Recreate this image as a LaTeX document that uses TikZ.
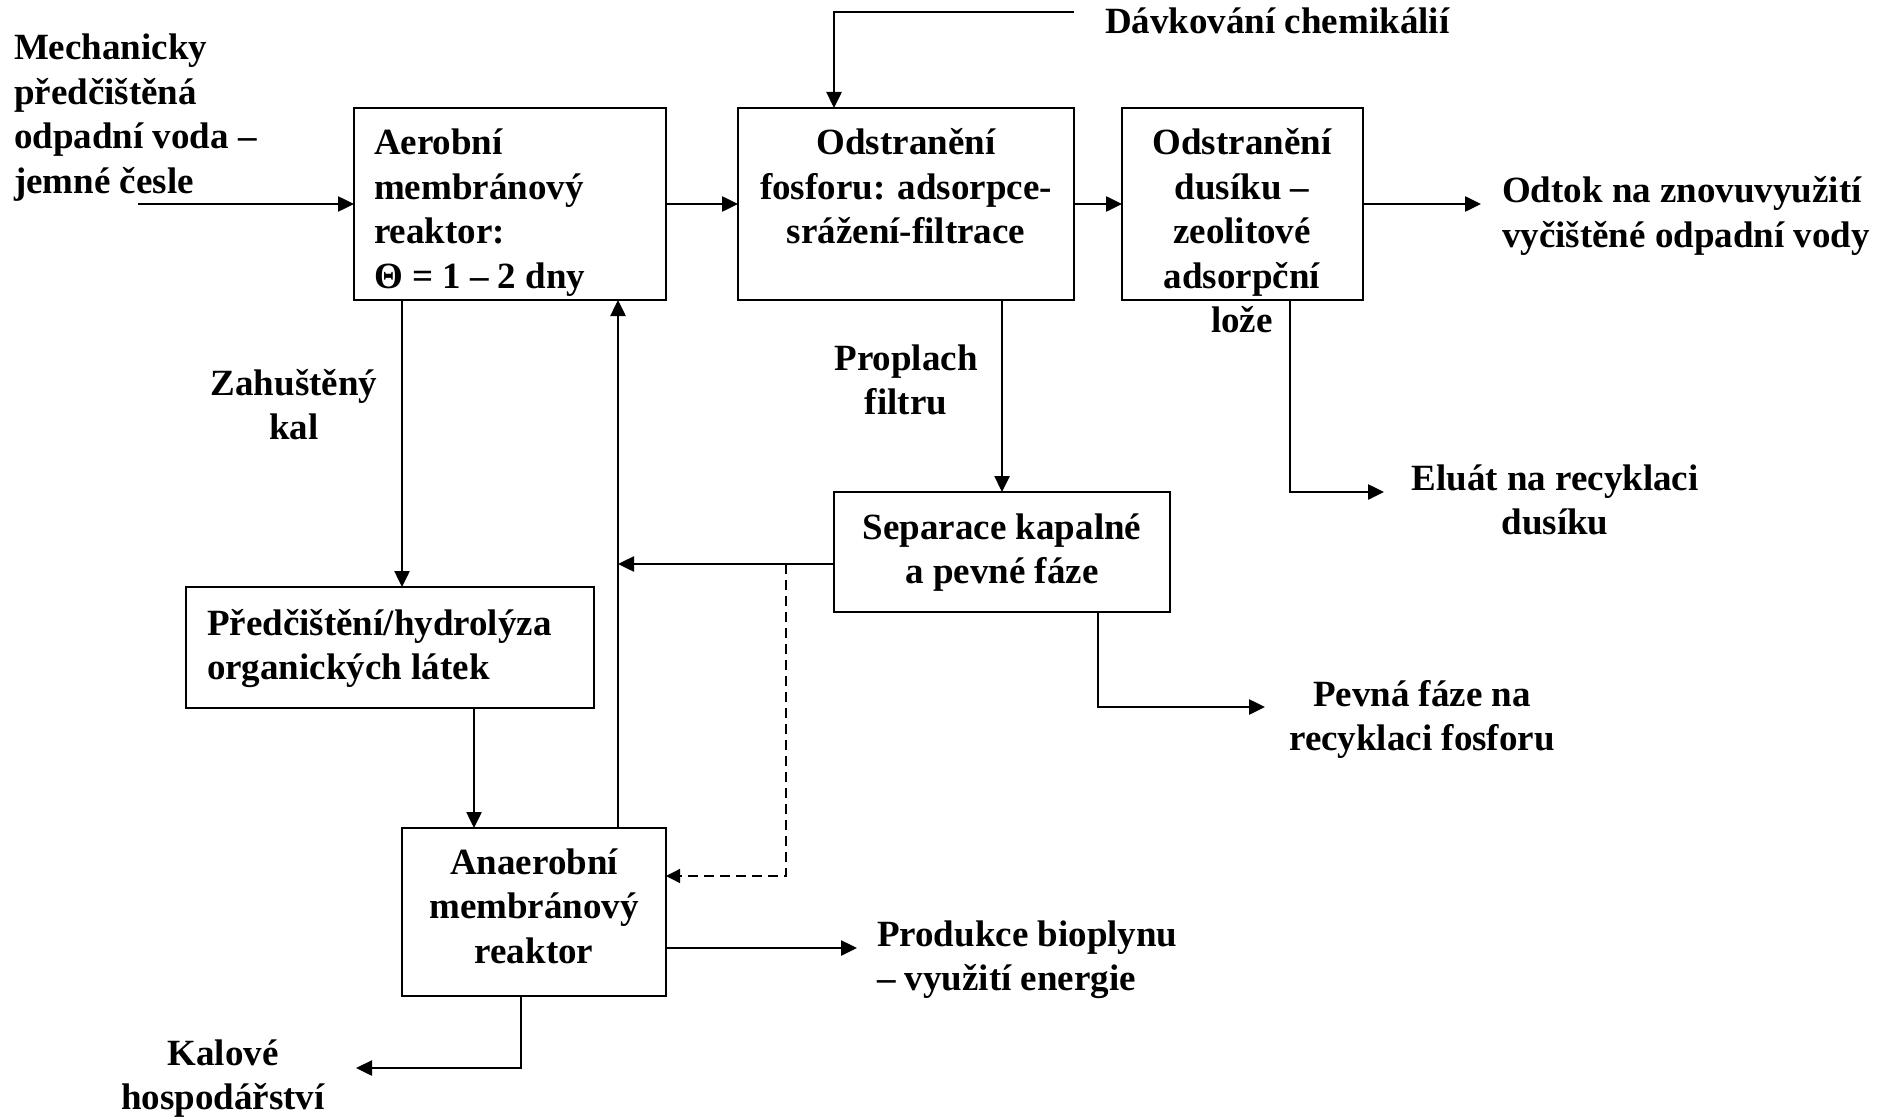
\documentclass[tikz,border=0pt]{standalone}
\usepackage{fontspec}
\setmainfont{Liberation Serif}
\usetikzlibrary{arrows.meta}
\newcommand\myL[1]{\begin{tabular}[t]{@{}l@{}}#1\end{tabular}}
\newcommand\myC[1]{\begin{tabular}[t]{@{}c@{}}#1\end{tabular}}
\begin{document}
\begin{tikzpicture}[x=0.5pt,y=-0.5pt,
  box/.style={draw, line width=1.25pt, inner sep=0pt, outer sep=0pt},
  arr/.style={line width=1.25pt, -{Triangle[length=8pt,width=7.5pt]}},
  darr/.style={line width=0.7pt, dash pattern=on 5pt off 3pt, -{Triangle[length=7pt,width=7pt]}},
  lbl/.style={inner sep=0pt, outer sep=0pt, font=\fontsize{18.5}{22.25}\selectfont\bfseries}]
\useasboundingbox (0,0) rectangle (1877,1118);
% boxes
\node[box, minimum width=156pt, minimum height=96pt] (aer) at (510,204) {};
\node[box, minimum width=168pt, minimum height=96pt] (fos) at (906,204) {};
\node[box, minimum width=120.5pt, minimum height=96pt] (dus) at (1242.5,204) {};
\node[box, minimum width=168pt, minimum height=60pt] (sep) at (1002,552) {};
\node[box, minimum width=204pt, minimum height=60.5pt] (pred) at (390,647.5) {};
\node[box, minimum width=132pt, minimum height=84pt] (an) at (534,912) {};
% texts
\node[lbl, anchor=base west] (tin) at (14,60) {\myL{Mechanicky\\předčištěná\\odpadní voda –\\jemné česle}};
\node[lbl, anchor=base west] (taer) at (374,155) {\myL{Aerobní\\membránový\\reaktor:\\Θ = 1 – 2 dny}};
\node[lbl, anchor=base] (tfos) at (906,155) {\myC{Odstranění\\fosforu: adsorpce-\\srážení-filtrace}};
\node[lbl, anchor=base] (tdus) at (1242,155) {\myC{Odstranění\\dusíku –\\zeolitové\\adsorpční\\lože}};
\node[lbl, anchor=base west] (tchem) at (1105,34) {Dávkování chemikálií};
\node[lbl, anchor=base west] (tout) at (1502,203) {\myL{Odtok na znovuvyužití\\vyčištěné odpadní vody}};
\node[lbl, anchor=base] (telu) at (1555,490) {\myC{Eluát na recyklaci\\dusíku}};
\node[lbl, anchor=base] (tprop) at (906,370) {\myC{Proplach\\filtru}};
\node[lbl, anchor=base] (tzah) at (294,395) {\myC{Zahuštěný\\kal}};
\node[lbl, anchor=base] (tsep) at (1002,539) {\myC{Separace kapalné\\a pevné fáze}};
\node[lbl, anchor=base west] (tpred) at (207,635) {\myL{Předčištění/hydrolýza\\organických látek}};
\node[lbl, anchor=base] (tpev) at (1422,706) {\myC{Pevná fáze na\\recyklaci fosforu}};
\node[lbl, anchor=base] (tan) at (534,874) {\myC{Anaerobní\\membránový\\reaktor}};
\node[lbl, anchor=base west] (tbio) at (877,946) {\myL{Produkce bioplynu\\– využití energie}};
\node[lbl, anchor=base] (tkal) at (223,1065) {\myC{Kalové\\hospodářství}};
% free ends
\coordinate (cin) at (138,204);
\coordinate (cout) at (1481,204);
\coordinate (cchem) at (1074,12);
\coordinate (celu) at (1384,492);
\coordinate (cpev) at (1265,707);
\coordinate (cbio) at (857,948);
\coordinate (ckal) at (356,1068);
\coordinate (cup) at ([xshift=108pt]an.north west);
\coordinate (ca1) at ([xshift=24pt]aer.south west);
\coordinate (cp1) at ([xshift=144pt]pred.south west);
\coordinate (cdash) at (786,564);
% connectors
\draw[arr] (cin) -- (aer.west);
\draw[arr] (aer.east) -- (fos.west);
\draw[arr] (fos.east) -- (dus.west);
\draw[arr] (dus.east) -- (cout);
\draw[arr] (cchem) -| ([xshift=48pt]fos.north west);
\draw[arr] (fos.south -| sep.north) -- (sep.north);
\draw[arr] ([xshift=84pt]dus.south west) |- (celu);
\draw[arr] ([yshift=-6pt]sep.west) -- ([yshift=-6pt]sep.west -| cup);
\draw[arr] (cup) -- (cup |- aer.south);
\draw[darr] (cdash) |- ([yshift=18pt]an.east);
\draw[arr] (ca1) -- (ca1 |- pred.north);
\draw[arr] (cp1) -- (cp1 |- an.north);
\draw[arr] ([yshift=-18pt]an.east) -- (cbio);
\draw[arr] ([xshift=59.5pt]an.south west) |- (ckal);
\draw[arr] ([xshift=132pt]sep.south west) |- (cpev);
\end{tikzpicture}
\end{document}
